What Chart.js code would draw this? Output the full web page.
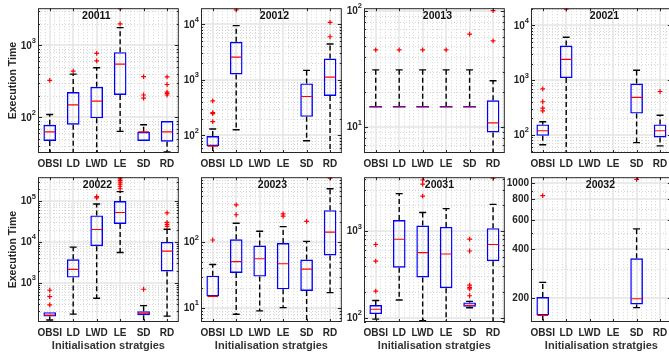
<!DOCTYPE html>
<html>
<head>
<meta charset="utf-8">
<script src="https://cdn.jsdelivr.net/npm/chart.js@4.4.0/dist/chart.umd.min.js"></script>
<style>
  html, body { margin: 0; padding: 0; background: #fff; overflow: hidden; }
  #fig { position: relative; width: 669px; height: 356px; }
  #fig canvas { position: absolute; }
</style>
</head>
<body>
<div id="fig"></div>
<script>
// ---- data ----
const categories = ['OBSI', 'LD', 'LWD', 'LE', 'SD', 'RD'];
const panelTitles = ['20011', '20012', '20013', '20021', '20022', '20023', '20031', '20032'];

// y limits (log axes)
const yMin = [32, 48, 6, 46.6, 110, 6.1, 89, 143];
const yMax = [3300, 19500, 105, 20700, 383000, 977, 4200, 1086];

// y tick values and their labels
const yTickValues = [
    [100, 1000],
    [100, 1000, 10000],
    [10, 100],
    [100, 1000, 10000],
    [1000, 10000, 100000],
    [10, 100],
    [100, 1000],
    [200, 400, 600, 800, 1000]
];
const yTickLabels = [
    ['10²', '10³'],
    ['10²', '10³', '10⁴'],
    ['10¹', '10²'],
    ['10²', '10³', '10⁴'],
    ['10³', '10⁴', '10⁵'],
    ['10¹', '10²'],
    ['10²', '10³'],
    ['200', '400', '600', '800', '1000']
];

// box statistics, one entry per category (null = no data)
const lowWhisker = [
    [28, 28, 28, 64, 47, 33],
    [45, 126, null, null, 80, 45],
    [15, 15, 15, 15, 15, 5.5],
    [66, 44, null, null, 72, 63],
    [123, 171, 420, 5530, 105, 153],
    [15, 8, 9, 10.1, 5.5, 17.1],
    [96, 160, 92, 85, 130, 85],
    [138, null, null, null, 175, null]
];
const q1 = [
    [47, 79, 97, 205, 47, 46],
    [64, 1245, null, null, 215, 513],
    [15, 15, 15, 15, 15, 9],
    [96, 1092, null, null, 245, 89.5],
    [150, 1345, 7880, 27500, 162, 1900],
    [15, 34, 30, 19.2, 18.1, 63],
    [110, 378, 291, 219, 134, 449],
    [157, null, null, null, 183, null]
];
const median = [
    [63, 149, 168, 549, 63, 63],
    [64, 2565, null, null, 500, 1115],
    [15, 15, 15, 15, 15, 10.9],
    [119, 2400, null, null, 484, 119],
    [162, 2134, 20150, 52400, 181, 5990],
    [15, 50.8, 56, 47, 39, 142],
    [125, 805, 564, 544, 139, 700],
    [157, null, null, null, 198, null]
];
const q3 = [
    [79, 225, 266, 807, 63, 89],
    [97, 4850, null, null, 861, 2420],
    [15, 15, 15, 15, 15, 17],
    [155, 4290, null, null, 865, 155],
    [191, 3766, 44400, 100000, 202, 10000],
    [31, 111, 89, 97, 54.5, 307],
    [140, 1343, 1160, 1118, 150, 1081],
    [203, null, null, null, 349, null]
];
const highWhisker = [
    [110, 400, 490, 1770, 79, 89],
    [130, 9480, null, null, 1480, 4410],
    [31, 31, 31, 31, 31, 25],
    [174, 6080, null, null, 1520, 229],
    [195, 7460, 84700, 170000, 276, 20500],
    [45.8, 194, 147, 173, 103, 653],
    [158, 2716, 1640, 1820, 154, 2036],
    [249, null, null, null, 527, null]
];

// outliers as [category index, value]
const outliers = [
    [[0, 328], [1, 440], [2, 611], [2, 776], [3, 2000], [3, 3250], [4, 369], [4, 205], [4, 186],
     [5, 365], [5, 287], [5, 225], [5, 215], [5, 205]],
    [[0, 418], [0, 257], [0, 245], [0, 177], [1, 18200], [5, 10800], [5, 5960]],
    [[0, 46], [1, 46], [2, 46], [3, 46], [4, 63], [5, 100], [5, 55]],
    [[0, 692], [0, 403], [0, 309], [0, 274], [1, 19900], [5, 621]],
    [[0, 658], [0, 461], [0, 287], [2, 120000], [2, 128000],
     [3, 200000], [3, 230000], [3, 260000], [3, 290000], [3, 320000], [3, 350000], [3, 380000],
     [4, 695], [5, 51500], [5, 30000], [5, 27000], [5, 24000]],
    [[0, 108], [1, 369], [1, 262], [3, 250], [3, 270], [4, 208], [5, 944]],
    [[0, 700], [0, 449], [0, 202], [2, 2535], [2, 3500], [2, 3900],
     [4, 806], [4, 589], [4, 238], [4, 224], [4, 215], [4, 179], [5, 4085]],
    [[0, 840], [4, 1052]]
];

// ---- layout ----
const colLefts = [38, 201, 364, 531];
const rowTops = [6, 175];
const plotW = 142, plotH = 147;
const axisW = 38;
const titleShift = [-12, 3, 3, 3, -11, 1, 5, -1];
const FONT = "'Liberation Sans', Arial, Helvetica, sans-serif";
const SUP = '⁰¹²³⁴⁵⁶⁷⁸⁹';

function seg(ctx, x1, y1, x2, y2) {
    ctx.beginPath();
    ctx.moveTo(x1, y1);
    ctx.lineTo(x2, y2);
    ctx.stroke();
}

// minor log positions that are not labelled ticks
function minorValues(p) {
    const out = [];
    const lo = Math.floor(Math.log10(yMin[p])), hi = Math.ceil(Math.log10(yMax[p]));
    for (let n = lo; n <= hi; n++) {
        for (let k = 1; k <= 9; k++) {
            const v = k * Math.pow(10, n);
            if (v > yMin[p] && v < yMax[p] && !yTickValues[p].some(t => Math.abs(t - v) < 1e-9 * v)) out.push(v);
        }
    }
    return out;
}

// matlab-like axes: grid, whiskers, medians, title, box with ticks
const boxPlotPlugin = {
    id: 'boxPlot',
    beforeDatasetsDraw(chart, args, opts) {
        const p = opts.panel;
        const {ctx, chartArea: a, scales: {x, y}} = chart;
        ctx.save();
        ctx.beginPath();
        ctx.rect(a.left, a.top, a.width, a.height);
        ctx.clip();
        ctx.lineWidth = 1;

        // dotted minor grid
        ctx.strokeStyle = '#d6d6d6';
        ctx.setLineDash([1, 2]);
        minorValues(p).forEach(v => {
            const py = Math.round(y.getPixelForValue(v)) + 0.5;
            seg(ctx, a.left, py, a.right, py);
        });
        for (let i = -1; i <= 5; i++) {
            for (let j = 1; j <= 4; j++) {
                const t = i + j * 0.2;
                if (t <= -0.5 || t >= 5.5) continue;
                const px = Math.round(x.getPixelForValue(t)) + 0.5;
                seg(ctx, px, a.top, px, a.bottom);
            }
        }

        // solid major grid
        ctx.setLineDash([]);
        ctx.strokeStyle = '#e4e4e4';
        ctx.lineWidth = 1.5;
        yTickValues[p].forEach(v => {
            const py = Math.round(y.getPixelForValue(v));
            seg(ctx, a.left, py, a.right, py);
        });
        categories.forEach((c, i) => {
            const px = Math.round(x.getPixelForValue(i));
            seg(ctx, px, a.top, px, a.bottom);
        });
        ctx.restore();
    },
    afterDatasetsDraw(chart, args, opts) {
        const p = opts.panel;
        const {ctx, chartArea: a, scales: {x, y}} = chart;
        const meta = chart.getDatasetMeta(0);
        ctx.save();
        ctx.beginPath();
        ctx.rect(a.left, a.top, a.width, a.height);
        ctx.clip();

        categories.forEach((c, i) => {
            if (q1[p][i] === null) return;
            const bar = meta.data[i];
            const cx = bar.x, half = bar.width / 2, capHalf = half * 0.55;
            const yLo = y.getPixelForValue(lowWhisker[p][i]);
            const yQ1 = y.getPixelForValue(q1[p][i]);
            const yMed = y.getPixelForValue(median[p][i]);
            const yQ3 = y.getPixelForValue(q3[p][i]);
            const yHi = y.getPixelForValue(highWhisker[p][i]);

            // whiskers
            ctx.strokeStyle = '#000';
            ctx.lineWidth = 1.4;
            ctx.setLineDash([5, 3]);
            if (yHi < yQ3 - 0.5) seg(ctx, cx, yQ3, cx, yHi);
            if (yLo > yQ1 + 0.5) seg(ctx, cx, yQ1, cx, yLo);
            ctx.setLineDash([]);
            if (yHi < yQ3 - 0.5) seg(ctx, cx - capHalf, yHi, cx + capHalf, yHi);
            if (yLo > yQ1 + 0.5) seg(ctx, cx - capHalf, yLo, cx + capHalf, yLo);

            // collapsed box shows as a single line
            if (Math.abs(yQ3 - yQ1) < 0.5) {
                ctx.strokeStyle = '#0000ff';
                ctx.lineWidth = 1.5;
                seg(ctx, cx - half, yQ1, cx + half, yQ1);
                ctx.strokeStyle = 'rgba(255,0,0,0.6)';
                ctx.lineWidth = 1.3;
                seg(ctx, cx - half, yMed, cx + half, yMed);
            } else {
                ctx.strokeStyle = '#ff0000';
                ctx.lineWidth = 1.2;
                seg(ctx, cx - half + 1, yMed, cx + half - 1, yMed);
            }
        });
        ctx.restore();
    },
    afterDraw(chart, args, opts) {
        const p = opts.panel;
        const {ctx, chartArea: a, scales: {x, y}} = chart;
        ctx.save();
        // panel title
        ctx.fillStyle = '#111';
        ctx.font = 'bold 10.5px ' + FONT;
        ctx.textAlign = 'center';
        ctx.textBaseline = 'middle';
        ctx.fillText(panelTitles[p], (a.left + a.right) / 2 + titleShift[p], a.top + 8);

        // y tick labels, powers of ten with a raised exponent
        ctx.fillStyle = '#262626';
        const right = a.left - 2;
        yTickLabels[p].forEach((lab, k) => {
            const py = y.getPixelForValue(yTickValues[p][k]);
            const m = lab.match(/^10([⁰¹²³⁴⁵⁶⁷⁸⁹]+)$/);
            if (m) {
                const exp = m[1].split('').map(ch => SUP.indexOf(ch)).join('');
                ctx.font = 'bold 7.5px ' + FONT;
                const ew = ctx.measureText(exp).width;
                ctx.textAlign = 'right';
                ctx.fillText(exp, right, py - 4.5);
                ctx.font = 'bold 10px ' + FONT;
                ctx.fillText('10', right - ew, py + 0.5);
            } else {
                ctx.font = 'bold 10px ' + FONT;
                ctx.textAlign = 'right';
                ctx.fillText(lab, right, py + 0.5);
            }
        });

        // axes box
        ctx.strokeStyle = '#262626';
        ctx.lineWidth = 1;
        ctx.strokeRect(a.left + 0.5, a.top + 0.5, a.width - 1, a.height - 1);

        // inward ticks
        yTickValues[p].forEach(v => {
            const py = Math.round(y.getPixelForValue(v)) + 0.5;
            seg(ctx, a.left, py, a.left + 4, py);
            seg(ctx, a.right - 4, py, a.right, py);
        });
        minorValues(p).forEach(v => {
            const py = Math.round(y.getPixelForValue(v)) + 0.5;
            seg(ctx, a.left, py, a.left + 2, py);
            seg(ctx, a.right - 2, py, a.right, py);
        });
        categories.forEach((c, i) => {
            const px = Math.round(x.getPixelForValue(i)) + 0.5;
            seg(ctx, px, a.bottom, px, a.bottom - 3);
            seg(ctx, px, a.top, px, a.top + 3);
        });
        ctx.restore();
    }
};

const fig = document.getElementById('fig');

panelTitles.forEach((title, p) => {
    const r = Math.floor(p / 4), c = p % 4;
    const xh = r === 0 ? 18 : 34;
    const cv = document.createElement('canvas');
    cv.width = axisW + plotW + 4;
    cv.height = 3 + plotH + xh;
    cv.style.left = (colLefts[c] - axisW) + 'px';
    cv.style.top = (rowTops[r] - 3) + 'px';
    fig.appendChild(cv);

    const boxes = categories.map((cat, i) => q1[p][i] === null ? null : [q1[p][i], q3[p][i]]);
    const outlierPoints = outliers[p].map(([ci, v]) => ({x: categories[ci], y: v}));

    new Chart(cv, {
        type: 'bar',
        data: {
            labels: categories,
            datasets: [{
                data: boxes,
                backgroundColor: 'rgba(0,0,0,0)',
                borderColor: '#0000ff',
                borderWidth: 1.4,
                borderSkipped: false,
                barPercentage: 0.54,
                categoryPercentage: 1
            }, {
                type: 'scatter',
                data: outlierPoints,
                pointStyle: 'cross',
                pointRadius: 2.4,
                borderColor: '#ff0000',
                backgroundColor: '#ff0000',
                borderWidth: 1.2
            }]
        },
        options: {
            responsive: false,
            animation: false,
            events: [],
            layout: { padding: { top: 3, right: 4, left: 0, bottom: 0 } },
            plugins: {
                legend: { display: false },
                tooltip: { enabled: false },
                boxPlot: { panel: p }
            },
            scales: {
                x: {
                    type: 'category',
                    offset: true,
                    afterFit: s => { s.height = xh; },
                    grid: { display: false, drawTicks: false },
                    border: { display: false },
                    ticks: {
                        padding: 5,
                        color: '#262626',
                        maxRotation: 0,
                        autoSkip: false,
                        font: { family: FONT, size: 10, weight: 'bold' }
                    },
                    title: {
                        display: r === 1,
                        text: 'Initialisation stratgies',
                        color: '#333',
                        font: { family: FONT, size: 11, weight: 'bold' },
                        padding: { top: 0, bottom: 3 }
                    }
                },
                y: {
                    type: 'logarithmic',
                    min: yMin[p],
                    max: yMax[p],
                    afterBuildTicks: s => { s.ticks = yTickValues[p].map(v => ({ value: v })); },
                    afterFit: s => { s.width = axisW; },
                    grid: { display: false, drawTicks: false },
                    border: { display: false },
                    ticks: { display: false },
                    title: {
                        display: c === 0,
                        text: 'Execution Time',
                        color: '#262626',
                        font: { family: FONT, size: 10.5, weight: 'bold' },
                        padding: { top: 7, bottom: 0 }
                    }
                }
            }
        },
        plugins: [boxPlotPlugin]
    });
});
</script>
</body>
</html>
